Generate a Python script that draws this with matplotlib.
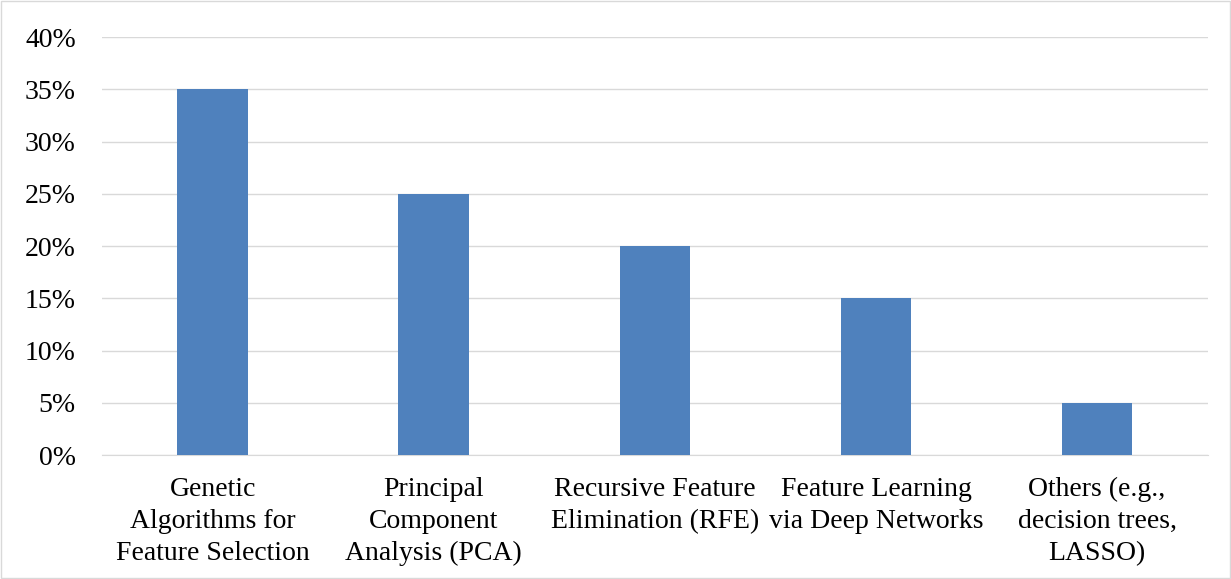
import matplotlib.pyplot as plt
from matplotlib.ticker import PercentFormatter
from matplotlib.patches import Rectangle

categories = [
    "Genetic\nAlgorithms for\nFeature Selection",
    "Principal\nComponent\nAnalysis (PCA)",
    "Recursive Feature\nElimination (RFE)",
    "Feature Learning\nvia Deep Networks",
    "Others (e.g.,\ndecision trees,\nLASSO)",
]
shares = [35, 25, 20, 15, 5]

plt.rcParams['font.family'] = ['Liberation Serif', 'DejaVu Serif']

fig = plt.figure(figsize=(12.31, 5.79), dpi=100)
ax = fig.add_axes([0.083, 0.214, 0.898, 0.722])

x = range(len(categories))
ax.bar(x, shares, width=0.32, color='#4F81BD', zorder=3)

ax.set_xlim(-0.5, len(categories) - 0.5)
ax.set_ylim(0, 40)
ax.set_yticks(range(0, 41, 5))
ax.yaxis.set_major_formatter(PercentFormatter(decimals=0))
ax.set_xticks(list(x))
ax.set_xticklabels(categories, fontsize=20, linespacing=1.37, va='top')
ax.tick_params(axis='y', labelsize=20, length=0, pad=19)
ax.tick_params(axis='x', length=0, pad=15.5)

ax.grid(axis='y', color='#D9D9D9', linewidth=1, zorder=0)
for side in ['top', 'right', 'left']:
    ax.spines[side].set_visible(False)
ax.spines['bottom'].set_color('#D9D9D9')

# chart border
fig.patches.append(Rectangle((0.001, 0.001), 0.998, 0.998, transform=fig.transFigure,
                             fill=False, edgecolor='#D9D9D9', linewidth=1))

fig.savefig('out.png', dpi=100)
